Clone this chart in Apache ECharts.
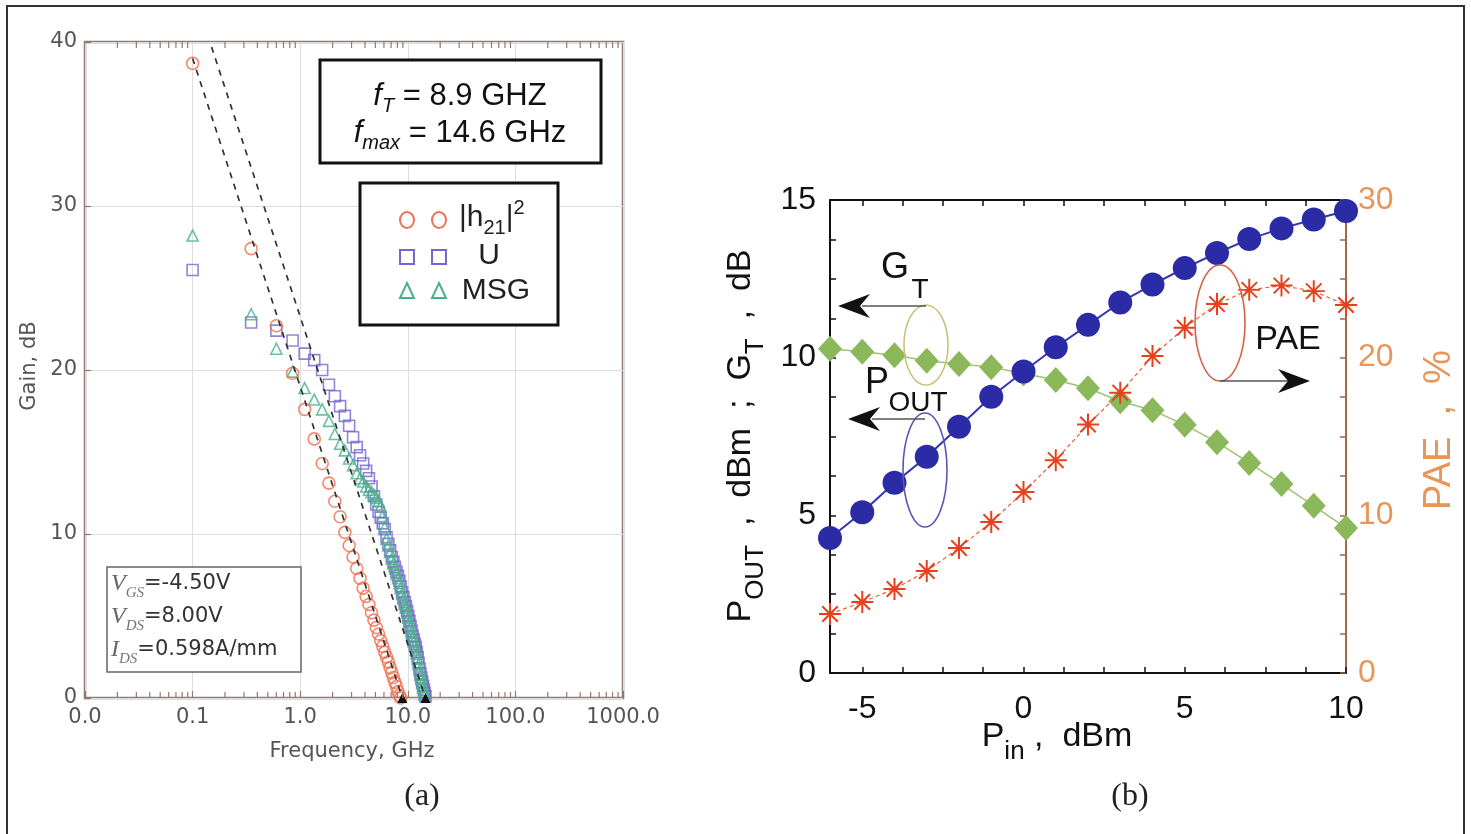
<!DOCTYPE html>
<html>
<head>
<meta charset="utf-8">
<script src="https://cdn.jsdelivr.net/npm/echarts@6/dist/echarts.min.js"></script>
<style>
html, body { margin: 0; padding: 0; background: #fff; }
#chart { width: 1471px; height: 834px; }
</style>
</head>
<body>
<div id="chart"></div>
<script>
// ---- (a) gain vs frequency ----
var freqGHz = [0.1, 0.35, 0.6, 0.85, 1.1, 1.35, 1.6, 1.85, 2.1, 2.35, 2.6, 2.85, 3.1, 3.35, 3.6, 3.85,
    4.1, 4.35, 4.6, 4.85, 5.1, 5.35, 5.6, 5.85, 6.1, 6.35, 6.6, 6.85, 7.1, 7.35, 7.6, 7.85, 8.1, 8.35,
    8.6, 8.85, 9.1, 9.35, 9.6, 9.85, 10.1, 10.35, 10.6, 10.85, 11.1, 11.35, 11.6, 11.85, 12.1, 12.35,
    12.6, 12.85, 13.1, 13.35, 13.6, 13.85, 14.1, 14.35, 14.6];
var h21Gain = [38.7, 27.4, 22.7, 19.8, 17.6, 15.8, 14.3, 13.1, 12.0, 11.05, 10.1, 9.3, 8.6, 7.9, 7.3,
    6.7, 6.2, 5.7, 5.2, 4.75, 4.3, 3.9, 3.5, 3.15, 2.8, 2.5, 2.2, 1.85, 1.55, 1.25, 0.95, 0.7, 0.4,
    0.15, 0.0];
var uGain = [26.1, 22.9, 22.4, 21.8, 21.0, 20.6, 20.0, 19.1, 18.4, 17.8, 17.2, 16.6, 15.9, 15.3, 14.8,
    14.3, 13.85, 13.4, 12.9, 12.3, 11.8, 11.35, 11.0, 10.65, 10.3, 9.8, 9.4, 9.0, 8.6, 8.3, 8.0, 7.7,
    7.45, 7.15, 6.8, 6.45, 6.15, 5.85, 5.6, 5.3, 5.0, 4.7, 4.4, 4.1, 3.8, 3.55, 3.3, 3.1, 2.8, 2.5,
    2.15, 1.8, 1.5, 1.25, 1.0, 0.75, 0.5, 0.3, 0.1];
var msgGain = [28.2, 23.4, 21.3, 19.9, 18.9, 18.2, 17.6, 16.9, 16.1, 15.5, 15.1, 14.6, 14.2, 13.7,
    13.4, 13.2, 12.9, 12.7, 12.55, 12.4, 12.2, 12.0, 11.7, 11.1, 10.4, 9.7, 9.3, 8.9, 8.5, 8.2, 7.9,
    7.6, 7.3, 7.0, 6.7, 6.35, 6.05, 5.75, 5.5, 5.2, 4.9, 4.6, 4.3, 4.0, 3.7, 3.45, 3.2, 2.95, 2.7,
    2.4, 2.05, 1.7, 1.4, 1.15, 0.9, 0.65, 0.4, 0.2];
// -20 dB/dec extrapolation lines (fT and fmax)
var fitFreqFT = [0.1, 8.9];
var fitGainFT = [39.0, 0];
var fitFreqFmax = [0.15, 14.6];
var fitGainFmax = [39.7, 0];

// ---- (b) power sweep ----
var pinDbm = [-6, -5, -4, -3, -2, -1, 0, 1, 2, 3, 4, 5, 6, 7, 8, 9, 10];
var poutDbm = [4.28, 5.1, 6.03, 6.86, 7.81, 8.76, 9.56, 10.33, 11.04, 11.75, 12.32, 12.84, 13.32,
    13.76, 14.1, 14.38, 14.65];
var gtDb = [10.28, 10.19, 10.08, 9.9, 9.8, 9.7, 9.5, 9.29, 9.03, 8.62, 8.33, 7.87, 7.32, 6.66, 5.99,
    5.3, 4.6];
var paePct = [3.74, 4.5, 5.33, 6.47, 7.93, 9.58, 11.48, 13.5, 15.76, 17.78, 20.1, 21.9, 23.4, 24.3,
    24.57, 24.22, 23.34];
var pinLabels = [-5, 0, 5, 10];
var pinTicks = [-5, -3.75, -2.5, -1.25, 0, 1.25, 2.5, 3.75, 5, 6.25, 7.5, 8.75, 10];
var leftLabels = [0, 5, 10, 15];
var leftTicks = [0, 1.25, 2.5, 3.75, 5, 6.25, 7.5, 8.75, 10, 11.25, 12.5, 13.75, 15];
var paeLabels = [0, 10, 20, 30];
var paeTicks = [0, 2.5, 5, 7.5, 10, 12.5, 15, 17.5, 20, 22.5, 25, 27.5, 30];

var SANS = 'Liberation Sans';
var DJ = 'DejaVu Sans';
var SERIF = 'Liberation Serif';
var FRAME_A = '#8c7b76';
var PAE_COLOR = '#e8955a';

function pairs(xs, ys) {
    return ys.map(function (y, i) { return [xs[i], y]; });
}

// log-axis minor ticks (2..9 of each decade)
var minorTicks = [];
[0.01, 0.1, 1, 10, 100].forEach(function (d) {
    for (var k = 2; k <= 9; k++) minorTicks.push([+(d * k).toPrecision(3), 0]);
});

var asterisk = 'path://M-1,-0.09L1,-0.09L1,0.09L-1,0.09Z M-0.09,-1L0.09,-1L0.09,1L-0.09,1Z ' +
    'M-0.771,-0.643L-0.643,-0.771L0.771,0.643L0.643,0.771Z M-0.771,0.643L0.643,-0.771L0.771,-0.643L-0.643,0.771Z';

function tok(size, lh, family, extra) {
    var s = { fontSize: size, fontFamily: family, lineHeight: lh };
    for (var k in extra) s[k] = extra[k];
    return s;
}

function txt(x, y, text, style, rotation) {
    var s = { text: text, align: 'center', verticalAlign: 'middle', textAlign: 'center', textVerticalAlign: 'middle' };
    for (var k in style) s[k] = style[k];
    return { type: 'text', x: x, y: y, rotation: rotation || 0, silent: true, style: s, z: 100 };
}

function arrowHead(tx, ty, dir) {
    // dir = -1 points left, 1 points right
    return {
        type: 'polygon', silent: true, z: 100,
        shape: { points: [[tx, ty], [tx - dir * 32, ty - 12], [tx - dir * 22, ty], [tx - dir * 32, ty + 12]] },
        style: { fill: '#111' }
    };
}

function hline(x1, x2, y) {
    return { type: 'line', silent: true, z: 100, shape: { x1: x1, y1: y, x2: x2, y2: y }, style: { stroke: '#555', lineWidth: 1.5 } };
}

function ellipse(cx, cy, rx, ry, color) {
    return { type: 'ellipse', silent: true, z: 100, shape: { cx: cx, cy: cy, rx: rx, ry: ry }, style: { fill: 'none', stroke: color, lineWidth: 1.6 } };
}

var richBox = {
    i: tok(31, 40, SANS, { fontStyle: 'italic' }),
    is: tok(20, 20, SANS, { fontStyle: 'italic', verticalAlign: 'bottom' }),
    n: tok(31, 40, SANS)
};
var richLegend = {
    n: tok(30, 40, SANS),
    s: tok(20, 20, SANS, { verticalAlign: 'bottom' }),
    p: tok(20, 20, SANS, { verticalAlign: 'top' })
};
var richBias = {
    v: tok(24, 34, SERIF, { fontStyle: 'italic', fill: '#666' }),
    vs: tok(15, 15, SERIF, { fontStyle: 'italic', fill: '#777', verticalAlign: 'bottom' }),
    n: tok(21, 34, DJ, { fill: '#333' })
};
var richAxisB = {
    b: tok(34, 56, SANS),
    s: tok(26, 26, SANS, { verticalAlign: 'bottom' })
};

var graphics = [
    // outer frame
    { type: 'rect', silent: true, shape: { x: 7, y: 6, width: 1457, height: 850 }, style: { fill: 'none', stroke: '#333', lineWidth: 2 } },

    // (a) annotation boxes
    { type: 'rect', silent: true, z: 90, shape: { x: 320, y: 60, width: 281, height: 103 }, style: { fill: '#fff', stroke: '#111', lineWidth: 3 } },
    txt(460, 96, '{i|f}{is|T}{n| = 8.9 GHZ}', { fill: '#111', rich: richBox }),
    txt(460, 133, '{i|f}{is|max}{n| = 14.6 GHz}', { fill: '#111', rich: richBox }),

    { type: 'rect', silent: true, z: 90, shape: { x: 360, y: 183, width: 198, height: 142 }, style: { fill: '#fff', stroke: '#111', lineWidth: 3 } },
    { type: 'ellipse', silent: true, z: 100, shape: { cx: 407, cy: 220, rx: 7, ry: 8 }, style: { fill: 'none', stroke: '#f0704f', lineWidth: 2 } },
    { type: 'ellipse', silent: true, z: 100, shape: { cx: 439, cy: 220, rx: 7, ry: 8 }, style: { fill: 'none', stroke: '#f0704f', lineWidth: 2 } },
    txt(459, 218, '{n||h}{s|21}{n||}{p|2}', { fill: '#222', align: 'left', textAlign: 'left', rich: richLegend }),
    { type: 'rect', silent: true, z: 100, shape: { x: 400, y: 250, width: 14, height: 14 }, style: { fill: 'none', stroke: '#7466cf', lineWidth: 2 } },
    { type: 'rect', silent: true, z: 100, shape: { x: 432, y: 250, width: 14, height: 14 }, style: { fill: 'none', stroke: '#7466cf', lineWidth: 2 } },
    txt(489, 256, 'U', { fill: '#222', fontSize: 30, fontFamily: SANS }),
    { type: 'polygon', silent: true, z: 100, shape: { points: [[407, 283], [414, 298], [400, 298]] }, style: { fill: 'none', stroke: '#48b08a', lineWidth: 2 } },
    { type: 'polygon', silent: true, z: 100, shape: { points: [[439, 283], [446, 298], [432, 298]] }, style: { fill: 'none', stroke: '#48b08a', lineWidth: 2 } },
    txt(496, 291, 'MSG', { fill: '#222', fontSize: 30, fontFamily: SANS }),

    { type: 'rect', silent: true, z: 90, shape: { x: 107, y: 567, width: 194, height: 105 }, style: { fill: '#fff', stroke: '#666', lineWidth: 1.5 } },
    txt(111, 584, '{v|V}{vs|GS}{n|=-4.50V}', { align: 'left', textAlign: 'left', rich: richBias }),
    txt(111, 617, '{v|V}{vs|DS}{n|=8.00V}', { align: 'left', textAlign: 'left', rich: richBias }),
    txt(111, 650, '{v|I}{vs|DS}{n|=0.598A/mm}', { align: 'left', textAlign: 'left', rich: richBias }),

    // (a) axis titles
    txt(30, 366, 'Gain, dB', { fill: '#555', fontSize: 21, fontFamily: DJ }, Math.PI / 2),
    txt(352, 752, 'Frequency, GHz', { fill: '#555', fontSize: 21, fontFamily: DJ }),
    txt(422, 797, '(a)', { fill: '#222', fontSize: 32, fontFamily: SERIF }),

    // (b) axis titles
    txt(741, 436, '{b|P}{s|OUT}{b|  ,  dBm  ;  G}{s|T}{b|  ,  dB}', { fill: '#111', rich: richAxisB }, Math.PI / 2),
    txt(1057, 737, '{b|P}{s|in}{b| ,  dBm}', { fill: '#111', rich: richAxisB }),
    txt(1440, 430, 'PAE  ,  %', { fill: PAE_COLOR, fontSize: 38, fontFamily: SANS }, Math.PI / 2),
    txt(1130, 797, '(b)', { fill: '#222', fontSize: 32, fontFamily: SERIF }),

    // (b) annotations
    ellipse(926, 345, 22, 40, '#c8c27a'),
    hline(926, 862, 306),
    arrowHead(838, 306, -1),
    txt(895, 268, 'G', { fill: '#111', fontSize: 36, fontFamily: SANS }),
    txt(920, 290, 'T', { fill: '#111', fontSize: 28, fontFamily: SANS }),

    ellipse(925, 470, 22, 57, '#5a55b8'),
    hline(925, 872, 419),
    arrowHead(848, 419, -1),
    txt(877, 383, 'P', { fill: '#111', fontSize: 36, fontFamily: SANS }),
    txt(918, 403, 'OUT', { fill: '#111', fontSize: 28, fontFamily: SANS }),

    ellipse(1220, 323, 25, 58, '#d8604a'),
    hline(1220, 1288, 381),
    arrowHead(1310, 381, 1),
    txt(1288, 340, 'PAE', { fill: '#111', fontSize: 34, fontFamily: SANS })
];

var chart = echarts.init(document.getElementById('chart'));

var option = {
    animation: false,
    backgroundColor: '#fff',
    grid: [
        { left: 85, top: 42, width: 538, height: 656, show: true, borderColor: FRAME_A, borderWidth: 2.5, backgroundColor: 'rgba(0,0,0,0)' },
        { left: 830, top: 200, width: 516, height: 473 }
    ],
    xAxis: [
        {
            type: 'log', gridIndex: 0, logBase: 10, min: 0.01, max: 1000,
            axisLine: { show: false, onZero: false },
            axisTick: { inside: true, length: 7, lineStyle: { color: FRAME_A, width: 1.2 } },
            axisLabel: { color: '#555', fontSize: 21, fontFamily: DJ, margin: 9, formatter: function (v) { return v.toFixed(1); } },
            splitLine: { show: true, lineStyle: { color: '#dddddd', width: 1 } }
        },
        {
            type: 'value', gridIndex: 1, position: 'bottom', min: -6, max: 10, interval: 1,
            axisLine: { onZero: false, lineStyle: { color: '#111', width: 2 } },
            axisTick: { inside: true, length: 6, customValues: pinTicks, lineStyle: { color: '#111', width: 1.5 } },
            axisLabel: {
                customValues: pinLabels, color: '#111', fontSize: 32, fontFamily: SANS, margin: 20,
                formatter: function (v) { return v % 5 === 0 ? String(v) : ''; }
            },
            splitLine: { show: false }
        },
        {
            type: 'value', gridIndex: 1, position: 'top', min: -6, max: 10, interval: 1,
            axisLine: { onZero: false, lineStyle: { color: '#111', width: 2 } },
            axisTick: { inside: true, length: 6, customValues: pinTicks, lineStyle: { color: '#111', width: 1.5 } },
            axisLabel: { show: false },
            splitLine: { show: false }
        }
    ],
    yAxis: [
        {
            type: 'value', gridIndex: 0, min: 0, max: 40, interval: 10,
            axisLine: { show: false, onZero: false },
            axisTick: { inside: true, length: 6, lineStyle: { color: FRAME_A, width: 1.2 } },
            axisLabel: { color: '#555', fontSize: 21, fontFamily: DJ, margin: 8 },
            splitLine: { show: true, lineStyle: { color: '#dddddd', width: 1 } }
        },
        {
            type: 'value', gridIndex: 1, position: 'left', min: 0, max: 15, interval: 1,
            axisLine: { show: true, onZero: false, lineStyle: { color: '#111', width: 2 } },
            axisTick: { show: true, inside: true, length: 6, customValues: leftTicks, lineStyle: { color: '#111', width: 1.5 } },
            axisLabel: {
                customValues: leftLabels, color: '#111', fontSize: 32, fontFamily: SANS, margin: 14,
                formatter: function (v) { return v % 5 === 0 ? String(v) : ''; }
            },
            splitLine: { show: false }
        },
        {
            type: 'value', gridIndex: 1, position: 'right', min: 0, max: 30, interval: 10,
            axisLine: { show: true, onZero: false, lineStyle: { color: '#a06a48', width: 2 } },
            axisTick: { show: true, inside: true, length: 6, customValues: paeTicks, lineStyle: { color: '#a06a48', width: 1.5 } },
            axisLabel: { customValues: paeLabels, color: PAE_COLOR, fontSize: 32, fontFamily: SANS, margin: 12 },
            splitLine: { show: false }
        }
    ],
    graphic: graphics,
    series: [
        {
            type: 'custom', xAxisIndex: 0, yAxisIndex: 0, silent: true, clip: false, z: 5,
            data: minorTicks,
            renderItem: function (params, api) {
                var x = api.value(0);
                var b = api.coord([x, 0]);
                var t = api.coord([x, 40]);
                return {
                    type: 'group', children: [
                        { type: 'line', shape: { x1: b[0], y1: b[1], x2: b[0], y2: b[1] - 6 }, style: { stroke: FRAME_A, lineWidth: 1.2 } },
                        { type: 'line', shape: { x1: t[0], y1: t[1], x2: t[0], y2: t[1] + 6 }, style: { stroke: FRAME_A, lineWidth: 1.2 } }
                    ]
                };
            }
        },
        {
            name: 'U', type: 'scatter', xAxisIndex: 0, yAxisIndex: 0, z: 2,
            data: pairs(freqGHz, uGain), symbol: 'rect', symbolSize: 11,
            itemStyle: { color: 'rgba(0,0,0,0)', borderColor: '#7466cf', borderWidth: 1.6 }
        },
        {
            name: 'MSG', type: 'scatter', xAxisIndex: 0, yAxisIndex: 0, z: 3,
            data: pairs(freqGHz, msgGain), symbol: 'triangle', symbolSize: 11,
            itemStyle: { color: 'rgba(0,0,0,0)', borderColor: '#48b08a', borderWidth: 1.6 }
        },
        {
            name: '|h21|^2', type: 'scatter', xAxisIndex: 0, yAxisIndex: 0, z: 3,
            data: pairs(freqGHz, h21Gain), symbol: 'circle', symbolSize: 12,
            itemStyle: { color: 'rgba(0,0,0,0)', borderColor: '#f26b4a', borderWidth: 1.6 }
        },
        {
            name: 'fT fit', type: 'line', xAxisIndex: 0, yAxisIndex: 0, z: 4,
            data: pairs(fitFreqFT, fitGainFT).map(function (p, i) {
                return i === 0 ? { value: p, symbol: 'none' } : { value: p, symbol: 'triangle', symbolSize: 10 };
            }),
            lineStyle: { color: '#333', width: 1.7, type: [6, 6] },
            itemStyle: { color: '#111' }
        },
        {
            name: 'fmax fit', type: 'line', xAxisIndex: 0, yAxisIndex: 0, z: 4,
            data: pairs(fitFreqFmax, fitGainFmax).map(function (p, i) {
                return i === 0 ? { value: p, symbol: 'none' } : { value: p, symbol: 'triangle', symbolSize: 10 };
            }),
            lineStyle: { color: '#333', width: 1.7, type: [6, 6] },
            itemStyle: { color: '#111' }
        },
        {
            name: 'GT', type: 'line', xAxisIndex: 1, yAxisIndex: 1, z: 3,
            data: pairs(pinDbm, gtDb), symbol: 'diamond', symbolSize: [24, 26],
            lineStyle: { color: '#9cc46e', width: 1.5 },
            itemStyle: { color: '#8cb85c' }
        },
        {
            name: 'POUT', type: 'line', xAxisIndex: 1, yAxisIndex: 1, z: 4,
            data: pairs(pinDbm, poutDbm), symbol: 'circle', symbolSize: 24,
            lineStyle: { color: '#3535b0', width: 2 },
            itemStyle: { color: '#2b2ba6' }
        },
        {
            name: 'PAE', type: 'line', xAxisIndex: 1, yAxisIndex: 2, z: 5,
            data: pairs(pinDbm, paePct), symbol: asterisk, symbolSize: 22,
            lineStyle: { color: '#e8603a', width: 1.2, type: [4, 3] },
            itemStyle: { color: '#e8401c' }
        }
    ]
};

chart.setOption(option);
</script>
</body>
</html>
